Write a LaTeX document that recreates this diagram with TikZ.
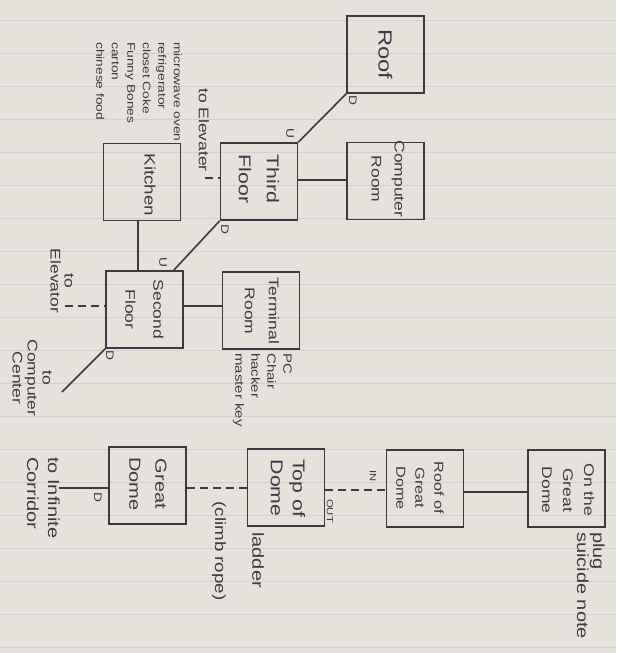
\documentclass[tikz,border=0pt]{standalone}
\usepackage{fontspec}
\setmainfont{Liberation Sans}[FakeStretch=1.25]
\definecolor{paper}{HTML}{E4E2DB}
\definecolor{rule}{HTML}{D3D1CB}
\definecolor{ink}{HTML}{3B3A42}
\newcommand{\fs}[2]{\fontsize{#1}{#2}\selectfont}
\tikzset{
  box/.style={draw=ink, line width=1.6pt, minimum width=77pt, minimum height=77pt, inner sep=0pt},
  conn/.style={draw=ink, line width=1.6pt},
  dashconn/.style={conn, dash pattern=on 8pt off 5pt},
  txt/.style={text=ink, rotate=-90, inner sep=0pt},
}
\begin{document}
\begin{tikzpicture}[x=1pt,y=-1pt]
\useasboundingbox (0,0) rectangle (616,653);
\fill[paper] (0,0) rectangle (616,653);
\foreach \r in {20,53,...,650} \draw[rule, line width=1pt] (0,\r) -- (616,\r);

% boxes
\node[box] (roof) at (385.5,54.5) {};
\node[box] (comp) at (385.5,181) {};
\node[box] (third) at (259,181.5) {};
\node[box] (kitchen) at (142,182) {};
\node[box] (second) at (144.5,309.5) {};
\node[box] (terminal) at (261,310.5) {};
\node[box] (gdome) at (147.5,485.5) {};
\node[box] (topdome) at (286,487.5) {};
\node[box] (roofgd) at (425,488.5) {};
\node[box] (ongd) at (566.5,488.5) {};

% box labels
\node[txt, font=\fs{19}{24}] (roofT) at (roof) {Roof};
\node[txt, font=\fs{14}{23}, align=center] (compT) at (388,179) {Computer\\Room};
\node[txt, font=\fs{17}{28}, align=center] (thirdT) at (259,179) {Third\\Floor};
\node[txt, font=\fs{15}{24}] (kitchenT) at (150,185) {Kitchen};
\node[txt, font=\fs{14}{28}, align=center] (secondT) at (144.5,309.5) {Second\\Floor};
\node[txt, font=\fs{14}{24}, align=center] (terminalT) at (262,311) {Terminal\\Room};
\node[txt, font=\fs{16}{26}, align=center] (gdomeT) at (148,484) {Great\\Dome};
\node[txt, font=\fs{17}{22}, align=center] (topdomeT) at (288,488) {Top of\\Dome};
\node[txt, font=\fs{13}{19}, align=center] (roofgdT) at (420,488) {Roof of\\Great\\Dome};
\node[txt, font=\fs{14}{21}, align=center] (ongdT) at (568,490) {On the\\Great\\Dome};

% free ends
\coordinate (elev3) at (205,178);
\coordinate (elev2) at (65,306);
\coordinate (cc) at (62,392);
\coordinate (ic) at (59,488);

% connectors
\draw[conn] (third.north east) -- (roof.south west);
\draw[conn] ([yshift=1.5pt]third.east) -- ([yshift=1.5pt]third.east -| comp.west);
\draw[conn] ([xshift=-4pt]kitchen.south) -- ([xshift=-4pt]kitchen.south |- second.north);
\draw[conn] ([xshift=-10pt]second.north east) -- (third.south west);
\draw[conn] ([yshift=3.5pt]second.east) -- ([yshift=3.5pt]second.east -| terminal.west);
\draw[dashconn] (elev3) -- (elev3 -| third.west);
\draw[dashconn] (elev2) -- (elev2 -| second.west);
\draw[conn] (second.south west) -- (cc);
\draw[conn] (ic) -- (ic -| gdome.west);
\draw[dashconn] ([yshift=-2.5pt]gdome.east) -- ([yshift=-2.5pt]gdome.east -| topdome.west);
\draw[dashconn] ([yshift=-2.5pt]topdome.east) -- ([yshift=-2.5pt]topdome.east -| roofgd.west);
\draw[conn] ([yshift=-3.5pt]roofgd.east) -- ([yshift=-3.5pt]roofgd.east -| ongd.west);

% door labels
\node[txt, font=\fs{11}{12}] (dRoof) at (353,100) {D};
\node[txt, font=\fs{11}{12}] (uThird) at (290,133) {U};
\node[txt, font=\fs{11}{12}] (dThird) at (225,229) {D};
\node[txt, font=\fs{11}{12}] (uSecond) at (163,262) {U};
\node[txt, font=\fs{11}{12}] (dSecond) at (110,355) {D};
\node[txt, font=\fs{11}{12}] (dGdome) at (98,497) {D};
\node[txt, font=\fs{9}{10}] (inL) at (373,476) {IN};
\node[txt, font=\fs{9}{10}] (outL) at (330,511) {OUT};

% annotations
\node[txt, font=\fs{11}{15.5}, align=left, anchor=north west] (kitchenN) at (182,42)
  {microwave oven\\refrigerator\\closet Coke\\Funny Bones\\carton\\chinese food};
\node[txt, font=\fs{12}{16}, align=left, anchor=north west] (terminalN) at (292,353)
  {PC\\Chair\\hacker\\master key};
\node[txt, font=\fs{14}{18}] (elev3T) at (204,130) {to Elevater};
\node[txt, font=\fs{14}{14}, align=center] (elev2T) at (62,281) {to\\Elevator};
\node[txt, font=\fs{14}{15}, align=center] (ccT) at (32,378) {to\\Computer\\Center};
\node[txt, font=\fs{16}{21}, align=left, anchor=north west] (icT) at (60,457) {to Infinite\\Corridor};
\node[txt, font=\fs{15}{18}] (ropeT) at (219,551) {(climb rope)};
\node[txt, font=\fs{16}{18}] (ladderT) at (258,560) {ladder};
\node[txt, font=\fs{16}{16}, align=left, anchor=north west] (plugT) at (605,532) {plug\\suicide note};
\end{tikzpicture}
\end{document}
